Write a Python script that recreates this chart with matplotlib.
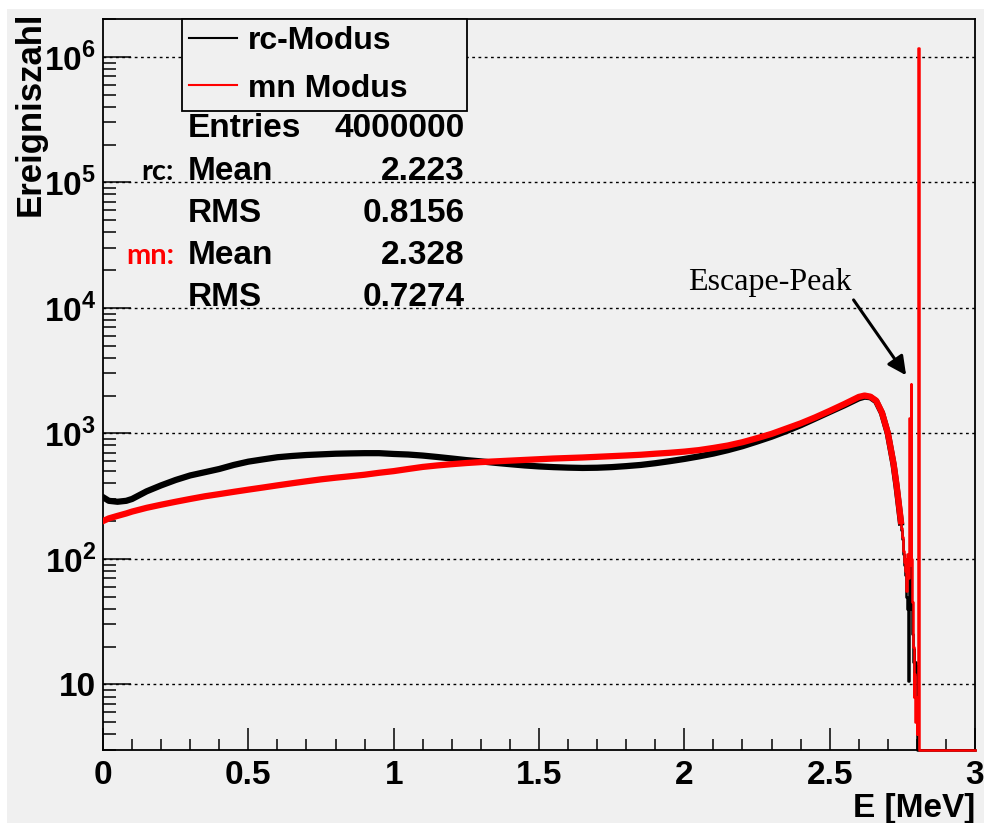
import numpy as np
import matplotlib.pyplot as plt
from matplotlib.patches import Rectangle
from matplotlib.lines import Line2D
from matplotlib.ticker import FixedLocator, FixedFormatter, MultipleLocator, LogLocator, NullFormatter

plt.rcParams['font.family'] = ['Liberation Sans', 'DejaVu Sans']
plt.rcParams['mathtext.fontset'] = 'custom'
plt.rcParams['mathtext.rm'] = 'Liberation Sans:bold'
plt.rcParams['mathtext.bf'] = 'Liberation Sans:bold'

# Spektrum (glatter Teil)
energy_body = [0.00, 0.02, 0.05, 0.08, 0.10, 0.15, 0.20, 0.25, 0.30, 0.35, 0.40,
               0.45, 0.50, 0.55, 0.60, 0.65, 0.70, 0.75, 0.80, 0.85, 0.90, 0.95,
               1.00, 1.05, 1.10, 1.15, 1.20, 1.25, 1.30, 1.35, 1.40, 1.45, 1.50,
               1.55, 1.60, 1.65, 1.70, 1.75, 1.80, 1.85, 1.90, 1.95, 2.00, 2.05,
               2.10, 2.15, 2.20, 2.25, 2.30, 2.35, 2.40, 2.45, 2.50, 2.55, 2.60,
               2.62, 2.64, 2.66, 2.68, 2.70, 2.72, 2.73, 2.745]
rc_body = [310, 290, 285, 290, 300, 345, 385, 425, 462, 490, 520,
           560, 595, 620, 645, 660, 672, 680, 688, 692, 695, 695,
           685, 678, 665, 648, 630, 612, 598, 582, 568, 555, 545,
           538, 533, 530, 532, 538, 548, 560, 578, 600, 625, 655,
           690, 735, 790, 860, 940, 1040, 1160, 1310, 1480, 1670, 1900,
           1960, 1940, 1800, 1450, 1000, 560, 380, 195]
mn_body = [200, 210, 220, 230, 238, 255, 270, 285, 300, 315, 328,
           342, 356, 370, 385, 400, 415, 430, 443, 455, 468, 485,
           500, 520, 540, 555, 568, 580, 590, 598, 606, 614, 622,
           630, 636, 642, 650, 658, 666, 675, 688, 700, 715, 735,
           765, 800, 850, 915, 990, 1090, 1200, 1340, 1510, 1710, 1950,
           2000, 1960, 1820, 1460, 1010, 570, 390, 200]

# Ende des Spektrums (Bins zu 2.5 keV), Escape-Peak und Photopeak
energy_tail = [2.7450, 2.7475, 2.7500, 2.7525, 2.7550, 2.7575, 2.7600, 2.7625,
               2.7650, 2.7675, 2.7700, 2.7725, 2.7750, 2.7775, 2.7800, 2.7825,
               2.7850, 2.7875, 2.7900, 2.7925, 2.7950, 2.7975, 2.8000, 2.8025,
               2.8050, 2.8075, 3.0000]
rc_tail = [195, 170, 145, 125, 110, 90, 75, 55,
           50, 40, 10.6, 60, 85, 40, 90, 40,
           25, 15, 19, 12, 15, 14, 10, 0,
           0, 0, 0]
mn_tail = [200, 175, 150, 130, 115, 95, 80, 100,
           55, 110, 70, 110, 1330, 90, 2450, 100,
           45, 20, 8, 12, 5, 8, 4, 6,
           1170000, 0, 0]

y_min, y_max = 3, 2e6
x_min, x_max = 0, 3

ytick_values = [10, 1e2, 1e3, 1e4, 1e5, 1e6]
ytick_labels = ['10', r'$10^{2}$', r'$10^{3}$', r'$10^{4}$', r'$10^{5}$', r'$10^{6}$']

legend_labels = ['rc-Modus', 'mn Modus']
stat_prefix = ['', 'rc:', '', 'mn:', '']
stat_prefix_colors = ['black', 'black', 'black', 'red', 'black']
stat_names = ['Entries', 'Mean', 'RMS', 'Mean', 'RMS']
stat_values = ['4000000', '2.223', '0.8156', '2.328', '0.7274']

W, H = 984, 823
bg = '#f0f0f0'
fig = plt.figure(figsize=(W / 100, H / 100), dpi=100, facecolor='white')
fig.add_artist(Rectangle((7 / W, 0), 1 - 7 / W, 1 - 9 / H, transform=fig.transFigure,
                         facecolor=bg, edgecolor='none', zorder=-10))

ax = fig.add_axes([103 / W, 1 - 750 / H, 872 / W, 731 / H])
ax.set_facecolor(bg)
ax.set_yscale('log')

# Histogramme: rc schwarz, mn rot darueber
ax.plot(energy_body, rc_body, color='black', lw=4.5, zorder=3)
ax.plot(energy_tail, np.clip(rc_tail, y_min, None), color='black', lw=1.8,
        drawstyle='steps-mid', zorder=3, clip_on=False)
ax.plot(energy_body, mn_body, color='red', lw=4.5, zorder=4)
ax.plot(energy_tail, np.clip(mn_tail, y_min, None), color='red', lw=1.8,
        drawstyle='steps-mid', zorder=4, clip_on=False)

ax.set_xlim(x_min, x_max)
ax.set_ylim(y_min, y_max)

ax.yaxis.set_major_locator(FixedLocator(ytick_values))
ax.yaxis.set_major_formatter(FixedFormatter(ytick_labels))
ax.yaxis.set_minor_locator(LogLocator(base=10, subs=np.arange(2, 10)))
ax.yaxis.set_minor_formatter(NullFormatter())
ax.xaxis.set_major_locator(MultipleLocator(0.5))
ax.xaxis.set_minor_locator(MultipleLocator(0.1))
ax.xaxis.set_major_formatter(plt.FuncFormatter(lambda v, p: f'{v:g}'))

ax.tick_params(axis='y', which='major', direction='in', length=20, width=1.1,
               labelsize=24, pad=5, right=False)
ax.tick_params(axis='y', which='minor', direction='in', length=9, width=1.1, right=False)
ax.tick_params(axis='x', which='major', direction='in', length=16, width=1.1,
               labelsize=24, pad=7, top=False)
ax.tick_params(axis='x', which='minor', direction='in', length=8, width=1.1, top=False)
for lab in ax.get_xticklabels() + ax.get_yticklabels():
    lab.set_fontweight('bold')

ax.yaxis.grid(True, which='major', color='black', linestyle=(0, (2, 2.5)), lw=1.0)
for s in ax.spines.values():
    s.set_linewidth(1.3)
    s.set_color('black')

fig.text(975 / W, 1 - 808 / H, 'E [MeV]', ha='right', va='center',
         fontsize=24, fontweight='bold')
fig.text(30 / W, 1 - 12 / H, 'Ereigniszahl', rotation=90, ha='center', va='top',
         fontsize=25, fontweight='bold')

# Legende
handles = [Line2D([], [], color='black', lw=1.5), Line2D([], [], color='red', lw=1.5)]
leg = ax.legend(handles, legend_labels, loc='upper left',
                bbox_to_anchor=((182 - 103) / 872, 1.0, (467 - 182) / 872, 0.0),
                mode='expand', prop={'weight': 'bold', 'size': 23},
                frameon=True, fancybox=False, handlelength=1.5, handletextpad=0.35,
                borderpad=0.22, labelspacing=0.55, borderaxespad=0.0)
leg.get_frame().set_facecolor(bg)
leg.get_frame().set_edgecolor('black')
leg.get_frame().set_linewidth(1.3)
leg.get_frame().set_alpha(None)
leg.set_zorder(10)

# Statistik-Box
baselines = [137, 180, 222, 264, 306]
for pre, col, name, val, yb in zip(stat_prefix, stat_prefix_colors, stat_names,
                                   stat_values, baselines):
    fig.text(188 / W, 1 - yb / H, name, ha='left', va='baseline',
             fontsize=24, fontweight='bold')
    fig.text(465 / W, 1 - yb / H, val, ha='right', va='baseline',
             fontsize=24, fontweight='bold')
    if pre:
        fig.text(174 / W, 1 - yb / H, pre, ha='right', va='baseline', color=col,
                 fontsize=21, fontweight='bold', family=['Lato', 'DejaVu Sans'])

# Escape-Peak Pfeil
ax.annotate('Escape-Peak', xy=(2.763, 2900), xytext=(2.0126, 15870),
            ha='left', va='center', fontsize=23,
            family=['Liberation Serif', 'DejaVu Serif'],
            arrowprops=dict(arrowstyle='-|>', color='black', lw=2.2,
                            mutation_scale=28, relpos=(1.0, 0.0),
                            shrinkA=0, shrinkB=0),
            zorder=6)

fig.savefig('out.png', dpi=100, facecolor=fig.get_facecolor())
